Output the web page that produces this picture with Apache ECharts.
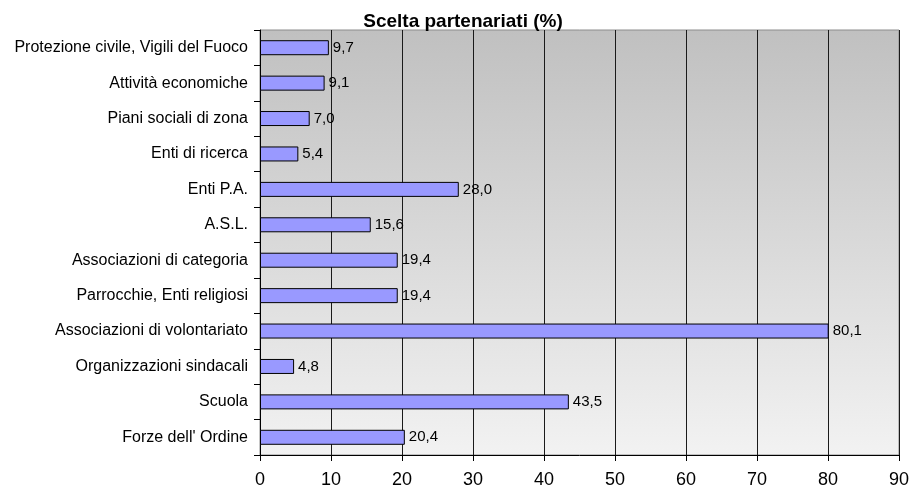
<!DOCTYPE html>
<html>
<head>
<meta charset="utf-8">
<script src="https://cdn.jsdelivr.net/npm/echarts@6/dist/echarts.min.js"></script>
<style>
  html, body { margin: 0; padding: 0; background: #fff; }
  #chart { width: 912px; height: 495px; }
</style>
</head>
<body>
<div id="chart"></div>
<script>
    // categorie dall'alto verso il basso
    const categories = [
        'Protezione civile, Vigili del Fuoco',
        'Attività economiche',
        'Piani sociali di zona',
        'Enti di ricerca',
        'Enti P.A.',
        'A.S.L.',
        'Associazioni di categoria',
        'Parrocchie, Enti religiosi',
        'Associazioni di volontariato',
        'Organizzazioni sindacali',
        'Scuola',
        "Forze dell' Ordine"
    ]
    const values = [9.7, 9.1, 7.0, 5.4, 28.0, 15.6, 19.4, 19.4, 80.1, 4.8, 43.5, 20.4]
    const xTicks = [0, 10, 20, 30, 40, 50, 60, 70, 80, 90]

    const myCharts = echarts.init(document.getElementById('chart'))
    const option = {
        animation: false,
        textStyle: { fontFamily: 'Liberation Sans, Arial, sans-serif' },
        title: {
            text: 'Scelta partenariati (%)',
            left: 458,
            top: 7,
            textAlign: 'center',
            textStyle: { fontSize: 19, fontWeight: 'bold', color: '#000' }
        },
        grid: {
            left: 260,
            right: 10,
            top: 30,
            bottom: 40,
            show: true,
            borderColor: '#8c8c8c',
            borderWidth: 1,
            // sfondo sfumato: grigio in alto, quasi bianco in basso
            backgroundColor: new echarts.graphic.LinearGradient(0, 0, 0, 1, [
                { offset: 0, color: '#c0c0c0' },
                { offset: 1, color: '#f2f2f2' }
            ])
        },
        xAxis: {
            type: 'value',
            min: 0,
            max: 90,
            interval: 10,
            axisLine: { show: true, lineStyle: { color: '#000', width: 1 } },
            axisTick: { show: true, length: 6, lineStyle: { color: '#000' } },
            axisLabel: {
                fontSize: 18,
                color: '#000',
                margin: 16,
                formatter: function (v) { return xTicks.indexOf(v) >= 0 ? String(v) : '' }
            },
            splitLine: { show: true, lineStyle: { color: '#1a1a1a', width: 1 } }
        },
        yAxis: {
            type: 'category',
            data: categories,
            inverse: true,
            axisLine: { show: true, lineStyle: { color: '#000', width: 1 } },
            axisTick: { show: true, length: 6, interval: 0, lineStyle: { color: '#000' } },
            axisLabel: { fontSize: 16, color: '#000', margin: 12, interval: 0 }
        },
        series: [
            {
                type: 'bar',
                data: values,
                barWidth: 15,
                itemStyle: { color: '#9999ff', borderColor: '#000', borderWidth: 1 },
                label: {
                    show: true,
                    position: 'right',
                    distance: 4,
                    fontSize: 15,
                    color: '#000',
                    formatter: function (p) { return p.value.toFixed(1).replace('.', ',') }
                }
            }
        ]
    }
    myCharts.setOption(option)
</script>
</body>
</html>
